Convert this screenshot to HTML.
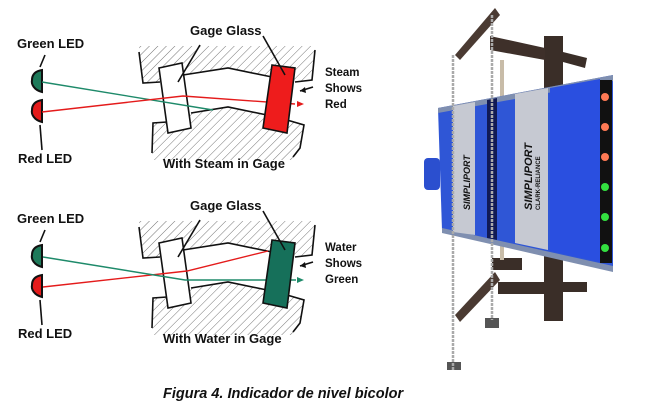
<!DOCTYPE html>
<html><head><meta charset="utf-8"><style>
html,body{margin:0;padding:0;background:#fff;width:656px;height:408px;overflow:hidden}
svg{display:block}
text{font-family:"Liberation Sans",Arial,sans-serif;font-weight:bold;fill:#111}
</style></head><body>
<svg width="656" height="408" viewBox="0 0 656 408" xmlns="http://www.w3.org/2000/svg">
<defs>
<pattern id="h" width="6" height="6" patternUnits="userSpaceOnUse" patternTransform="rotate(45)">
<line x1="0" y1="0" x2="0" y2="6" stroke="#666" stroke-width="0.9"/></pattern>
<g id="body">
 <polygon points="139,46 317,46 315,50 312,80 295,82 290,75 272,77 228,68 183,75 176,70 160,82 143,83" fill="url(#h)"/>
 <polygon points="153,123 167,122 191,113 228,107 267,115 287,120 304,125 300,148 293,160 152,160" fill="url(#h)"/>
 <g fill="none" stroke="#111" stroke-width="1.6">
  <polyline points="139,52 143,83 160,82"/>
  <polyline points="183,75 228,68 272,77"/>
  <polyline points="295,82 312,80 315,50"/>
  <polyline points="152,153 153,123 167,122"/>
  <polyline points="191,113 228,107 267,115"/>
  <polyline points="287,120 304,125 300,148 293,157"/>
  <line x1="45" y1="55" x2="40" y2="67"/>
  <line x1="40" y1="125" x2="42" y2="150"/>
  <line x1="313" y1="87" x2="300" y2="91"/>
 </g>
 <polygon points="300,91 305,87 306,93" fill="#111"/>
 <path d="M42,70 L42,92 C34,90 31,84 32,80 C32,74 36,71 42,70 Z" fill="#1e7a5a" stroke="#111" stroke-width="2"/>
 <path d="M42,100 L42,122 C34,120 31,114 32,110 C32,104 36,101 42,100 Z" fill="#e41b1b" stroke="#111" stroke-width="2"/>
 <polygon points="159,68 182,63 191,128 168,133" fill="#fff" stroke="#111" stroke-width="1.6"/>
 <line x1="200" y1="45" x2="178" y2="82" stroke="#111" stroke-width="1.6"/>
 <text x="17" y="48" font-size="13">Green LED</text>
 <text x="18" y="163" font-size="13">Red LED</text>
 <text x="190" y="35" font-size="13">Gage Glass</text>
</g>
</defs>

<use href="#body"/>
<polyline points="42,82 213,110" fill="none" stroke="#1e8a6a" stroke-width="1.4"/>
<polyline points="42,112 183,96 295,104" fill="none" stroke="#e41b1b" stroke-width="1.4"/>
<polygon points="272,65 295,68 287,133 263,128" fill="#ee1c1c" stroke="#111" stroke-width="1.6"/>
<line x1="263" y1="36" x2="285" y2="75" stroke="#111" stroke-width="1.6"/>
<polygon points="304,104 297,101 297,107" fill="#e41b1b"/>
<text x="325" y="76" font-size="11.5">Steam</text>
<text x="325" y="92" font-size="11.5">Shows</text>
<text x="325" y="108" font-size="11.5">Red</text>
<text x="163" y="168" font-size="13">With Steam in Gage</text>

<g transform="translate(0,175)">
<use href="#body"/>
<polyline points="43,112 187,96 268,76" fill="none" stroke="#e41b1b" stroke-width="1.4"/>
<polyline points="43,82 185,105 296,105" fill="none" stroke="#1e8a6a" stroke-width="1.4"/>
<polygon points="272,65 295,68 287,133 263,128" fill="#16705a" stroke="#111" stroke-width="1.6"/>
<line x1="263" y1="36" x2="285" y2="75" stroke="#111" stroke-width="1.6"/>
<polygon points="304,105 297,102 297,108" fill="#1e8a6a"/>
<text x="325" y="76" font-size="11.5">Water</text>
<text x="325" y="92" font-size="11.5">Shows</text>
<text x="325" y="108" font-size="11.5">Green</text>
<text x="163" y="168" font-size="13">With Water in Gage</text>
</g>

<text x="163" y="398" font-size="14.5" font-style="italic">Figura 4. Indicador de nivel bicolor</text>

<g>
 <rect x="544" y="36" width="19" height="285" fill="#3a2e28"/>
 <polygon points="490,36 545,48 545,60 490,50" fill="#3e302a"/>
 <polygon points="563,52 587,58 585,68 563,62" fill="#3a2e28"/>
 <rect x="498" y="282" width="50" height="12" fill="#3a2e28"/>
 <rect x="562" y="282" width="25" height="10" fill="#3a2e28"/>
 <polygon points="455,55 495,8 500,15 460,60" fill="#4a3a32"/>
 <polygon points="455,315 495,272 500,280 460,322" fill="#4a3a32"/>
 <rect x="492" y="258" width="30" height="12" fill="#3a2e28"/>
 <rect x="500" y="60" width="4" height="200" fill="#c8bca8"/>
 <rect x="485" y="318" width="14" height="10" fill="#555"/>
 <rect x="447" y="362" width="14" height="8" fill="#555"/>
 <polygon points="438,108 613,75 613,270 442,230" fill="#2f56d6"/>
 <polygon points="438,108 613,75 613,81 438,113" fill="#7f8fb0"/>
 <polygon points="442,228 613,266 613,272 442,233" fill="#7f8fb0"/>
 <polygon points="453,106 475,102 475,235 453,232" fill="#c6c9d2"/>
 <polygon points="515,94 548,88 548,250 515,243" fill="#c6c9d2"/>
 <polygon points="487,100 497,98 497,240 487,238" fill="#111a55"/>
 <polygon points="550,88 600,79 600,262 550,251" fill="#2a4fe0"/>
 <rect x="600" y="80" width="12" height="183" fill="#111"/>
 <circle cx="605" cy="97" r="4" fill="#ff7a55"/>
 <circle cx="605" cy="127" r="4" fill="#ff7a55"/>
 <circle cx="605" cy="157" r="4" fill="#ff7a55"/>
 <circle cx="605" cy="187" r="4" fill="#33e040"/>
 <circle cx="605" cy="217" r="4" fill="#33e040"/>
 <circle cx="605" cy="248" r="4" fill="#33e040"/>
 <rect x="424" y="158" width="16" height="32" rx="4" fill="#2b4fcf"/>
 <text x="0" y="0" font-size="11" font-style="italic" fill="#111" transform="translate(532,210) rotate(-90)">SIMPLIPORT</text>
 <text x="0" y="0" font-size="6" fill="#111" transform="translate(540,210) rotate(-90)">CLARK-RELIANCE</text>
 <text x="0" y="0" font-size="9" font-style="italic" fill="#111" transform="translate(470,210) rotate(-90)">SIMPLIPORT</text>
 <line x1="453" y1="55" x2="453" y2="370" stroke="#aaa" stroke-width="2.5" stroke-dasharray="3,1"/>
 <line x1="492" y1="15" x2="492" y2="320" stroke="#aaa" stroke-width="2.5" stroke-dasharray="3,1"/>
</g>
</svg>
</body></html>
